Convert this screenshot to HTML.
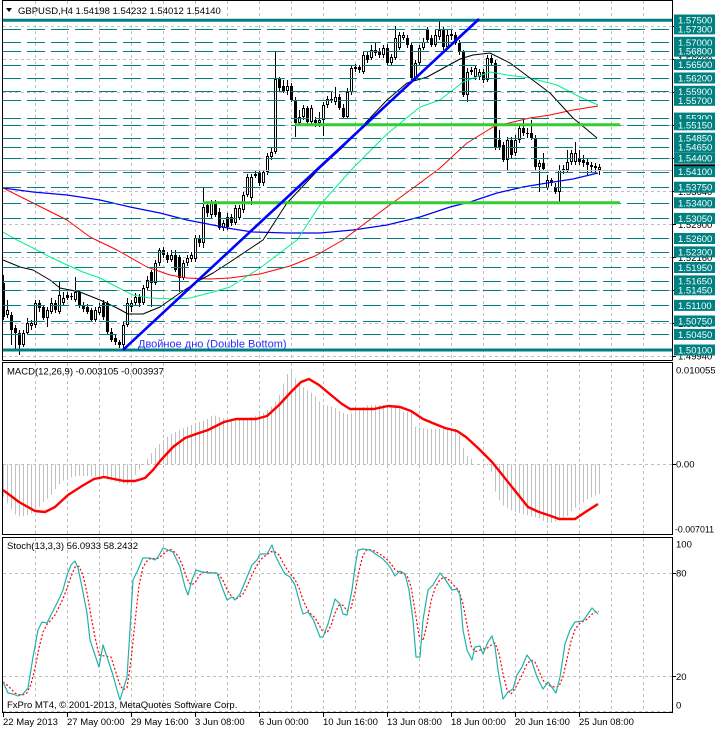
<!DOCTYPE html>
<html><head><meta charset="utf-8">
<style>
html,body{margin:0;padding:0;background:#fff;}
body{width:715px;height:730px;overflow:hidden;position:relative;}
svg{position:absolute;left:0;top:0;}
</style></head><body>
<svg id="c" width="715" height="730" viewBox="0 0 715 730" xmlns="http://www.w3.org/2000/svg" font-family="Liberation Sans, Arial, sans-serif" font-size="9.5">
<defs>
 <clipPath id="cm"><rect x="3" y="1" width="669" height="359"/></clipPath>
 <clipPath id="cd"><rect x="3" y="363" width="669" height="171"/></clipPath>
 <clipPath id="cs"><rect x="3" y="538" width="669" height="174"/></clipPath>
</defs>
<rect x="0" y="0" width="715" height="730" fill="#fff"/>
<g id="grid"></g>
<g id="candles" clip-path="url(#cm)"></g>
<g id="mas" clip-path="url(#cm)"></g>
<g id="levels" clip-path="url(#cm)"></g>
<g id="objs" clip-path="url(#cm)"></g>
<g id="macd" clip-path="url(#cd)"></g>
<g id="stoch" clip-path="url(#cs)"></g>

<!-- frames -->
<g fill="none" stroke="#000" stroke-width="1">
 <line x1="2.5" y1="0.5" x2="672.5" y2="0.5"/>
 <line x1="2.5" y1="0" x2="2.5" y2="360.5"/>
 <line x1="672.5" y1="0" x2="672.5" y2="360.5"/>
 <line x1="2.5" y1="360.5" x2="672.5" y2="360.5"/>
 <rect x="2.5" y="362.5" width="670" height="172"/>
 <rect x="2.5" y="537.5" width="670" height="175"/>
</g>

<!-- header -->
<polygon points="6,8 12,8 9,12" fill="#000"/>
<text x="18" y="14" fill="#000">GBPUSD,H4  1.54198 1.54232 1.54012 1.54140</text>
<text x="138" y="347.5" font-size="11" fill="#2b2bff">Двойное дно (Double Bottom)</text>
<text x="7" y="374.5" fill="#000">MACD(12,26,9) -0.003105 -0.003937</text>
<text x="7" y="549" fill="#000">Stoch(13,3,3) 56.0933 58.2432</text>
<text x="7" y="708" fill="#000">FxPro MT4, © 2001-2013, MetaQuotes Software Corp.</text>

<!-- right axis tick labels (mostly hidden) -->
<g fill="#000">
<text x="678" y="30">1.57340</text>
<text x="678" y="63">1.56600</text>
<text x="678" y="96">1.55860</text>
<text x="678" y="129">1.55120</text>
<text x="678" y="162">1.54380</text>
<text x="678" y="195">1.53640</text>
<text x="678" y="228">1.52900</text>
<text x="678" y="261">1.52160</text>
<text x="678" y="294">1.51420</text>
<text x="678" y="327">1.50680</text>
<text x="678" y="359.5">1.49940</text>
</g>
<g stroke="#000">
<line x1="672" y1="26.5" x2="676" y2="26.5"/><line x1="672" y1="59.5" x2="676" y2="59.5"/>
<line x1="672" y1="92.5" x2="676" y2="92.5"/><line x1="672" y1="125.5" x2="676" y2="125.5"/>
<line x1="672" y1="158.5" x2="676" y2="158.5"/><line x1="672" y1="191.5" x2="676" y2="191.5"/>
<line x1="672" y1="224.5" x2="676" y2="224.5"/><line x1="672" y1="257.5" x2="676" y2="257.5"/>
<line x1="672" y1="290.5" x2="676" y2="290.5"/><line x1="672" y1="323.5" x2="676" y2="323.5"/>
<line x1="672" y1="356.5" x2="676" y2="356.5"/>
<line x1="672" y1="464.5" x2="676" y2="464.5"/>
<line x1="672" y1="573.5" x2="676" y2="573.5"/><line x1="672" y1="676.5" x2="676" y2="676.5"/>
</g>

<!-- level label boxes -->
<g>
<rect x="674" y="14.5" width="41" height="11" fill="#008080"/><text x="678" y="23.5" fill="#fff">1.57500</text>
<rect x="674" y="23.4" width="41" height="11" fill="#008080"/><text x="678" y="32.4" fill="#fff">1.57300</text>
<rect x="674" y="36.8" width="41" height="11" fill="#008080"/><text x="678" y="45.8" fill="#fff">1.57000</text>
<rect x="674" y="45.7" width="41" height="11" fill="#008080"/><text x="678" y="54.7" fill="#fff">1.56800</text>
<rect x="674" y="59.1" width="41" height="11" fill="#008080"/><text x="678" y="68.1" fill="#fff">1.56500</text>
<rect x="674" y="72.5" width="41" height="11" fill="#008080"/><text x="678" y="81.5" fill="#fff">1.56200</text>
<rect x="674" y="85.8" width="41" height="11" fill="#008080"/><text x="678" y="94.8" fill="#fff">1.55900</text>
<rect x="674" y="94.8" width="41" height="11" fill="#008080"/><text x="678" y="103.8" fill="#fff">1.55700</text>
<rect x="674" y="112.6" width="41" height="11" fill="#008080"/><text x="678" y="121.6" fill="#fff">1.55300</text>
<rect x="674" y="119.3" width="41" height="11" fill="#008080"/><text x="678" y="128.3" fill="#fff">1.55150</text>
<rect x="674" y="132.7" width="41" height="11" fill="#008080"/><text x="678" y="141.7" fill="#fff">1.54850</text>
<rect x="674" y="141.6" width="41" height="11" fill="#008080"/><text x="678" y="150.6" fill="#fff">1.54650</text>
<rect x="674" y="152.7" width="41" height="11" fill="#008080"/><text x="678" y="161.7" fill="#fff">1.54400</text>
<rect x="674" y="164.3" width="41" height="11" fill="#000"/>
<rect x="674" y="166.1" width="41" height="11" fill="#008080"/><text x="678" y="175.1" fill="#fff">1.54100</text>
<rect x="674" y="181.7" width="41" height="11" fill="#008080"/><text x="678" y="190.7" fill="#fff">1.53750</text>
<rect x="674" y="197.3" width="41" height="11" fill="#008080"/><text x="678" y="206.3" fill="#fff">1.53400</text>
<rect x="674" y="212.9" width="41" height="11" fill="#008080"/><text x="678" y="221.9" fill="#fff">1.53050</text>
<rect x="674" y="233.0" width="41" height="11" fill="#008080"/><text x="678" y="242.0" fill="#fff">1.52600</text>
<rect x="674" y="246.4" width="41" height="11" fill="#008080"/><text x="678" y="255.4" fill="#fff">1.52300</text>
<rect x="674" y="262.0" width="41" height="11" fill="#008080"/><text x="678" y="271.0" fill="#fff">1.51950</text>
<rect x="674" y="275.4" width="41" height="11" fill="#008080"/><text x="678" y="284.4" fill="#fff">1.51650</text>
<rect x="674" y="284.3" width="41" height="11" fill="#008080"/><text x="678" y="293.3" fill="#fff">1.51450</text>
<rect x="674" y="299.9" width="41" height="11" fill="#008080"/><text x="678" y="308.9" fill="#fff">1.51100</text>
<rect x="674" y="315.5" width="41" height="11" fill="#008080"/><text x="678" y="324.5" fill="#fff">1.50750</text>
<rect x="674" y="328.9" width="41" height="11" fill="#008080"/><text x="678" y="337.9" fill="#fff">1.50450</text>
<rect x="674" y="344.5" width="41" height="11" fill="#008080"/><text x="678" y="353.5" fill="#fff">1.50100</text>
</g>

<!-- MACD / Stoch axis labels -->
<g fill="#000">
<text x="676" y="373.5">0.010055</text>
<text x="676" y="467.5">0.00</text>
<text x="675" y="532.5" textLength="39" lengthAdjust="spacingAndGlyphs">-0.007011</text>
<text x="676" y="547.5">100</text>
<text x="676" y="576.5">80</text>
<text x="676" y="680">20</text>
<text x="676" y="708.5">0</text>
</g>

<!-- time axis -->
<g stroke="#000">
<line x1="3.5" y1="712" x2="3.5" y2="717"/><line x1="67.5" y1="712" x2="67.5" y2="717"/>
<line x1="131.5" y1="712" x2="131.5" y2="717"/><line x1="195.5" y1="712" x2="195.5" y2="717"/>
<line x1="259.5" y1="712" x2="259.5" y2="717"/><line x1="323.5" y1="712" x2="323.5" y2="717"/>
<line x1="387.5" y1="712" x2="387.5" y2="717"/><line x1="451.5" y1="712" x2="451.5" y2="717"/>
<line x1="515.5" y1="712" x2="515.5" y2="717"/><line x1="579.5" y1="712" x2="579.5" y2="717"/>
</g>
<g fill="#000">
<text x="3" y="725">22 May 2013</text>
<text x="67" y="725">27 May 00:00</text>
<text x="131" y="725">29 May 16:00</text>
<text x="195" y="725">3 Jun 08:00</text>
<text x="259" y="725">6 Jun 00:00</text>
<text x="323" y="725">10 Jun 16:00</text>
<text x="387" y="725">13 Jun 08:00</text>
<text x="451" y="725">18 Jun 00:00</text>
<text x="515" y="725">20 Jun 16:00</text>
<text x="579" y="725">25 Jun 08:00</text>
</g>
</svg>
<script>
(function(){
const NS='http://www.w3.org/2000/svg';
function mk(p,t,a){const e=document.createElementNS(NS,t);for(const k in a)e.setAttribute(k,a[k]);p.appendChild(e);return e;}
function interp(pts,x){if(x<=pts[0][0])return pts[0][1];for(let i=1;i<pts.length;i++){if(x<=pts[i][0]){const a=pts[i-1],b=pts[i];return a[1]+(b[1]-a[1])*(x-a[0])/(b[0]-a[0]);}}return pts[pts.length-1][1];}
function poly(p,pts,a){a.points=pts.map(q=>q[0]+','+q[1]).join(' ');a.fill='none';a['stroke-linejoin']='round';return mk(p,'polyline',a);}
const $=id=>document.getElementById(id);

// grid
const g=$('grid');const gs={stroke:'#c0c0c0','stroke-dasharray':'3,3'};
for(let k=1;k<=20;k++){const x=3+32*k+0.5;
 [[1,360],[363,534],[538,712]].forEach(r=>mk(g,'line',Object.assign({x1:x,y1:r[0],x2:x,y2:r[1]},gs)));}
for(let k=0;k<=10;k++){const y=26.5+33*k;mk(g,'line',Object.assign({x1:3,y1:y,x2:672,y2:y},gs));}
[464.5,573.5,676.5,711.5].forEach(y=>mk(g,'line',Object.assign({x1:3,y1:y,x2:672,y2:y},gs)));

// candles
const C=[
[283,317,275,320,1],[310,315,300,318,0],[315,330,312,345,1],[328,333,325,350,1],[333,345,330,355,1],[333,345,330,347,0],[323,333,318,335,0],[323,326,320,330,0],[303,325,300,328,0],[303,308,300,312,1],
[307,318,305,320,1],[310,318,307,327,0],[303,312,298,314,0],[303,310,300,313,1],[295,312,282,314,0],[298,303,292,306,0],[295,298,292,300,1],[296,297,293,300,0],[292,300,277,302,0],[292,305,290,308,1],
[305,309,302,312,1],[307,312,304,314,1],[310,320,308,322,1],[310,320,307,322,0],[307,313,303,315,0],[303,317,300,320,1],[303,332,301,335,1],[332,340,328,342,1],[338,342,335,345,1],[342,345,340,348,1],
[325,345,322,350,0],[303,325,298,327,0],[303,307,300,312,0],[297,303,293,306,0],[297,303,294,307,1],[288,303,285,305,0],[280,288,276,290,0],[272,283,270,307,1],[263,283,260,285,0],[250,263,248,266,0],
[250,255,247,258,1],[255,260,252,263,1],[255,260,250,262,0],[255,270,250,272,1],[257,278,255,292,1],[263,278,260,280,0],[258,263,255,266,0],[255,259,252,262,0],[238,259,235,262,0],[238,243,235,247,1],
[207,243,187,248,0],[205,213,203,217,1],[203,215,200,218,0],[203,215,200,217,1],[212,228,208,230,1],[223,228,220,231,0],[217,227,213,230,1],[217,223,214,226,1],[208,223,205,225,0],[208,218,205,220,0],
[195,210,192,213,0],[177,195,174,197,0],[177,198,174,205,0],[174,176,171,178,0],[173,183,170,186,1],[172,183,170,186,0],[156,172,153,175,0],[152,157,148,160,0],[79,152,51,154,0],[79,88,77,92,1],
[86,91,80,93,1],[86,91,80,95,0],[86,100,83,102,1],[100,123,97,137,1],[117,123,110,126,0],[108,117,105,120,0],[108,122,106,125,1],[108,122,105,125,0],[120,123,117,127,1],[120,123,112,127,0],
[105,120,102,136,0],[99,105,96,108,0],[99,101,92,103,0],[97,102,87,105,0],[97,108,94,110,1],[108,117,104,118,1],[92,117,88,118,0],[68,92,65,95,0],[67,69,64,72,0],[67,70,65,73,1],
[55,72,52,74,0],[55,60,52,63,1],[50,58,45,60,0],[50,53,43,56,0],[52,55,48,58,1],[48,55,45,58,0],[48,63,44,66,1],[57,63,54,66,0],[38,58,26,60,0],[35,48,32,50,0],
[35,38,32,40,0],[38,45,35,48,1],[45,78,42,80,1],[63,78,60,80,0],[48,63,45,66,0],[42,48,38,50,0],[30,40,27,43,1],[38,45,35,47,1],[35,45,30,47,0],[30,37,20,40,0],
[30,47,27,50,1],[35,47,30,50,0],[34,36,30,40,0],[35,43,32,45,1],[43,52,40,55,1],[52,95,50,97,1],[72,95,68,102,0],[70,72,67,75,0],[68,77,65,80,0],[72,77,69,80,0],
[72,80,69,83,1],[58,80,55,82,0],[58,63,55,66,1],[63,147,60,150,1],[140,147,130,150,1],[145,160,142,162,1],[140,160,137,170,0],[140,155,137,158,1],[140,153,135,156,0],[128,140,125,143,0],
[128,133,120,136,1],[133,134,128,138,0],[133,138,120,140,1],[138,167,135,170,1],[163,167,160,192,0],[163,169,153,171,1],[180,188,175,190,0],[180,183,178,186,1],[187,192,183,194,1],[170,192,165,202,0],
[169,171,165,174,0],[162,170,150,172,0],[153,162,150,165,0],[153,162,142,165,0],[158,162,150,165,1],[160,163,155,167,1],[162,165,158,175,1],[165,167,162,172,0],[166,168,163,172,0],[167,170,164,175,0]
];
const cg=$('candles');
C.forEach((c,i)=>{const x=3+4*i;
 mk(cg,'line',{x1:x+0.5,y1:c[2],x2:x+0.5,y2:c[3],stroke:'#000'});
 const h=c[1]-c[0];
 if(h<=2){mk(cg,'rect',{x:x-1,y:c[0],width:3,height:Math.max(1,h),fill:'#000'});}
 else if(c[4]){mk(cg,'rect',{x:x-1,y:c[0],width:3,height:h,fill:'#000'});}
 else{mk(cg,'rect',{x:x-0.5,y:c[0]+0.5,width:2,height:h-1,fill:'#fff',stroke:'#000'});}
});

// moving averages
const mg=$('mas');
const blue=[[3,188],[33,192],[67,195],[100,200],[130,207],[160,213],[187,220],[213,225],[233,229],[253,232],[287,233],[320,233],[353,230],[387,225],[420,217],[450,207],[470,202],[497,193],[523,187],[547,183],[573,179],[598,173]];
const red=[[3,188],[33,203],[67,220],[90,237],[117,250],[147,267],[170,275],[187,278],[210,279],[230,278],[260,274],[290,266],[315,256],[343,240],[360,227],[387,207],[420,183],[440,168],[467,143],[493,127],[513,122],[530,118],[550,115],[573,110],[598,106]];
const green=[[3,232],[17,240],[33,248],[50,257],[67,265],[83,272],[100,278],[117,287],[133,295],[150,298],[173,299],[190,298],[213,292],[230,287],[260,268],[297,240],[320,205],[353,168],[387,134],[420,107],[440,100],[463,82],[490,72],[507,75],[530,78],[557,85],[580,97],[598,105]];
const black=[[3,260],[20,267],[33,270],[50,280],[60,288],[80,292],[100,300],[117,308],[128,314],[143,314],[160,307],[180,293],[200,280],[213,273],[230,262],[263,240],[287,203],[320,168],[343,147],[370,118],[387,100],[407,83],[427,77],[440,70],[460,59],[473,55],[490,53],[510,63],[530,78],[550,93],[573,118],[597,138]];
poly(mg,blue,{stroke:'#0000ff','stroke-width':1.2});
poly(mg,red,{stroke:'#ff0000','stroke-width':1});
poly(mg,green,{stroke:'#00f090','stroke-width':1});
poly(mg,black,{stroke:'#000','stroke-width':1});

// levels
const lg=$('levels');
const lv=[1.573,1.570,1.568,1.565,1.562,1.559,1.557,1.553,1.5515,1.5485,1.5465,1.544,1.541,1.5375,1.534,1.5305,1.526,1.523,1.5195,1.5165,1.5145,1.511,1.5075,1.5045];
const yp=p=>20+(1.575-p)*4459;
mk(lg,'line',{x1:3,y1:170.5,x2:672,y2:170.5,stroke:'#c0c0c0'});
lv.forEach(p=>{const y=Math.round(yp(p))+0.5;mk(lg,'line',{x1:3,y1:y,x2:672,y2:y,stroke:'#008080','stroke-dasharray':'18,6'});});
mk(lg,'line',{x1:3,y1:20.3,x2:672,y2:20.3,stroke:'#008080','stroke-width':3});
mk(lg,'line',{x1:3,y1:350,x2:672,y2:350,stroke:'#008080','stroke-width':3});

// objects
const og=$('objs');
mk(og,'line',{x1:295,y1:124.8,x2:620,y2:124.8,stroke:'#33cc33','stroke-width':3});
mk(og,'line',{x1:203,y1:202.8,x2:620,y2:202.8,stroke:'#33cc33','stroke-width':3});
mk(og,'line',{x1:123,y1:350,x2:479,y2:19,stroke:'#0000ff','stroke-width':2.6});

// MACD
const dg=$('macd');
const H=[[2,495],[8,505],[14,514],[20,517],[27,515],[35,512],[43,502],[50,496],[58,485],[66,478],[78,476],[90,476],[100,477],[116,482],[128,485],[137,472],[145,462],[153,450],[161,442],[169,435],[181,429],[193,424],[205,420],[213,415],[225,419],[245,419],[257,415],[265,412],[273,405],[281,392],[285,375],[291,372],[297,382],[305,389],[313,394],[321,404],[333,407],[341,412],[348,415],[356,410],[368,405],[395,405],[403,412],[411,412],[415,427],[427,429],[455,429],[459,435],[465,454],[471,459],[475,464],[490,466],[494,489],[498,499],[502,505],[510,510],[522,514],[541,519],[545,523],[553,523],[561,518],[567,516],[572,510],[576,507],[580,504],[584,502],[588,498],[592,497],[599,494]];
for(let i=0;i<150;i++){const x=3+4*i;const v=interp(H,x);
 mk(dg,'line',{x1:x+0.5,y1:464,x2:x+0.5,y2:v,stroke:'#c0c0c0'});}
const S=[[3,490],[19,502],[35,511],[45,512],[55,507],[68,495],[82,486],[94,479],[104,477],[114,479],[124,481],[135,481],[145,478],[153,470],[161,460],[173,447],[185,438],[196,434],[208,430],[224,422],[236,419],[256,419],[267,416],[279,405],[291,392],[301,382],[309,379],[319,385],[331,395],[342,404],[350,409],[374,409],[388,406],[400,407],[411,411],[423,419],[435,424],[445,428],[457,431],[466,437],[478,448],[492,462],[504,477],[516,492],[528,507],[539,512],[551,516],[559,519],[575,519],[587,511],[598,504]];
poly(dg,S,{stroke:'#ff0000','stroke-width':2.4});

// Stochastic
const sg=$('stoch');
const K=[[3,682],[8,693],[13,694],[18,696],[23,694],[28,688],[33,657],[38,630],[42,622],[47,623],[50,617],[55,607],[60,597],[63,590],[67,575],[71,565],[75,561],[78,568],[82,587],[87,613],[90,640],[95,655],[99,667],[103,645],[108,660],[113,675],[117,690],[120,700],[123,690],[127,677],[130,630],[133,580],[137,572],[143,558],[150,558],[155,560],[158,557],[163,548],[168,550],[173,552],[180,567],[185,587],[188,595],[192,580],[196,570],[202,572],[210,573],[217,573],[222,587],[227,600],[232,597],[235,600],[240,594],[247,577],[252,565],[257,560],[260,554],[267,554],[272,545],[275,555],[280,565],[285,574],[290,577],[295,585],[300,604],[303,614],[308,612],[313,619],[320,637],[323,637],[328,624],[335,599],[340,604],[343,614],[347,615],[352,590],[355,567],[358,550],[363,549],[370,550],[377,555],[383,559],[390,567],[395,576],[400,571],[405,574],[409,590],[413,620],[416,657],[420,657],[423,620],[428,590],[433,585],[440,573],[445,579],[452,590],[457,589],[460,595],[463,630],[467,650],[472,660],[475,647],[480,646],[483,654],[488,642],[492,636],[495,647],[498,670],[503,699],[508,692],[513,689],[517,675],[522,667],[527,655],[532,662],[537,677],[543,689],[548,682],[556,693],[560,677],[565,644],[570,630],[575,622],[583,621],[592,608],[598,614]];
const ks=[];for(let i=0;i<150;i++){ks.push(interp(K,3+4*i));}
const D=[];for(let i=0;i<150;i++){const a=ks[Math.max(0,i-2)],b=ks[Math.max(0,i-1)],c=ks[i];D.push([3+4*i,((a+b+c)/3).toFixed(1)]);}
poly(sg,D,{stroke:'#ff0000','stroke-width':1.2,'stroke-dasharray':'2,2'});
poly(sg,K,{stroke:'#20b2aa','stroke-width':1.2});
})();
</script>
</body></html>
